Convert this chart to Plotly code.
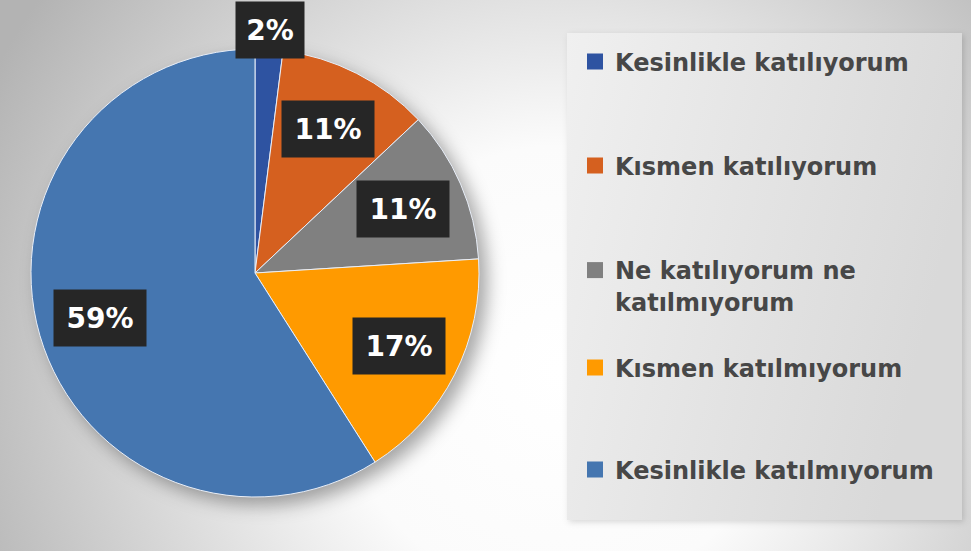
import base64
import numpy as np
import plotly.graph_objects as go

# ---- data ----
categories = [
    "Kesinlikle katılıyorum",
    "Kısmen katılıyorum",
    "Ne katılıyorum ne<br>katılmıyorum",
    "Kısmen katılmıyorum",
    "Kesinlikle katılmıyorum",
]
values = [2, 11, 11, 17, 59]
colors = ["#2E53A1", "#D5601F", "#808080", "#FF9A00", "#4576B0"]

# ---- geometry / style ----
W, H = 971, 551


def fx(px):  # px -> paper x
    return px / W


def fy(py):  # px -> paper y
    return 1 - py / H


CX, CY, R = 255, 273, 224  # pie centre and radius in px
pie_domain_x = [fx(CX - R), fx(CX + R)]
pie_domain_y = [fy(CY + R), fy(CY - R)]

# background: radial gradient + pie shadow + legend panel (decorative)
svg = f'''<svg xmlns="http://www.w3.org/2000/svg" width="{W}" height="{H}" viewBox="0 0 {W} {H}">
<defs>
<radialGradient id="bg" cx="560" cy="370" r="640" gradientUnits="userSpaceOnUse">
<stop offset="0" stop-color="#ffffff"/><stop offset="0.35" stop-color="#fbfbfb"/>
<stop offset="1" stop-color="#b3b3b3"/></radialGradient>
<linearGradient id="lg" x1="0" y1="0" x2="1" y2="0.3">
<stop offset="0" stop-color="#f0f0f0"/><stop offset="1" stop-color="#d9d9d9"/></linearGradient>
<filter id="blur" x="-20%" y="-20%" width="140%" height="140%"><feGaussianBlur stdDeviation="9"/></filter>
<filter id="blur2" x="-20%" y="-20%" width="140%" height="140%"><feGaussianBlur stdDeviation="3"/></filter>
</defs>
<rect width="{W}" height="{H}" fill="url(#bg)"/>
<circle cx="{CX+8}" cy="{CY+8}" r="{R}" fill="rgba(0,0,0,0.35)" filter="url(#blur)"/>
<rect x="569" y="35" width="395" height="487" fill="rgba(0,0,0,0.15)" filter="url(#blur2)"/>
<rect x="567" y="33" width="395" height="487" fill="url(#lg)"/>
</svg>'''
svg_uri = "data:image/svg+xml;base64," + base64.b64encode(svg.encode()).decode()

fig = go.Figure()
fig.add_trace(go.Pie(
    labels=categories, values=values, sort=False, direction="clockwise",
    rotation=0, marker=dict(colors=colors, line=dict(color="#e8eef8", width=1)),
    textinfo="none", hoverinfo="label+percent", showlegend=False,
    domain=dict(x=pie_domain_x, y=pie_domain_y),
))

# legend entries (one legend per item for Excel-like spacing)
legend_centres = [62, 166, 286, 368, 470]
legend_ids = ["legend", "legend2", "legend3", "legend4", "legend5"]
for cat, col, lid in zip(categories, colors, legend_ids):
    fig.add_trace(go.Scatter(
        x=[None], y=[None], mode="markers", name=cat, legend=lid,
        marker=dict(symbol="square", size=16, color=col),
    ))

leg_style = dict(
    x=fx(575), xanchor="left", yanchor="middle", valign="top",
    bgcolor="rgba(0,0,0,0)", borderwidth=0,
    font=dict(family="DejaVu Sans", size=24, color="#474747", weight="bold"),
    itemclick=False, itemdoubleclick=False,
)
layout_legends = {}
for lid, cy in zip(legend_ids, legend_centres):
    layout_legends[lid] = dict(leg_style, y=fy(cy))

# percentage labels in dark boxes, positioned from slice angles
total = sum(values)
cum = np.cumsum([0] + values[:-1])
annotations = []
for v, c in zip(values, cum):
    pct = v / total
    mid = (c + v / 2) / total * 2 * np.pi  # clockwise from 12 o'clock
    f = 1.085 if pct < 0.05 else 0.72
    px = CX + f * R * np.sin(mid)
    py = CY - f * R * np.cos(mid)
    txt = f"{round(pct * 100)}%"
    annotations.append(dict(
        x=fx(px), y=fy(py), xref="paper", yref="paper",
        text=f"<b>{txt}</b>", showarrow=False,
        font=dict(family="DejaVu Sans", size=28, color="#ffffff"),
        bgcolor="#262626", borderpad=10, width=24 * len(txt), height=36,
        xanchor="center", yanchor="middle",
    ))

fig.update_layout(
    width=W, height=H,
    margin=dict(l=0, r=0, t=0, b=0),
    paper_bgcolor="#ffffff", plot_bgcolor="rgba(0,0,0,0)",
    xaxis=dict(visible=False), yaxis=dict(visible=False),
    images=[dict(source=svg_uri, xref="paper", yref="paper", x=0, y=1,
                 sizex=1, sizey=1, xanchor="left", yanchor="top",
                 sizing="stretch", layer="below")],
    annotations=annotations,
    **layout_legends,
)

fig.write_html("out.html",
               config={"displayModeBar": False},
               post_script="document.body.style.margin='0';")
